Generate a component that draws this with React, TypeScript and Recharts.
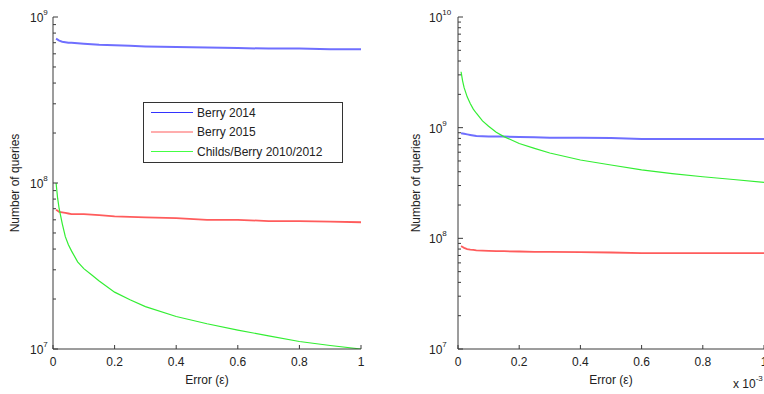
import React from 'react';
import { Line, LineChart, XAxis, YAxis } from 'recharts';

// error values (left panel in ε, right panel in units of 1e-3)
const EPS = [0.01, 0.015, 0.02, 0.03, 0.04, 0.05, 0.06, 0.08, 0.1, 0.125, 0.15, 0.2, 0.25, 0.3, 0.4, 0.5, 0.6, 0.7, 0.8, 0.9, 1.0];

const LEFT_BERRY_2014 = [7.4e8, 7.3e8, 7.2e8, 7.1e8, 7.05e8, 7.0e8, 7.0e8, 6.95e8, 6.9e8, 6.85e8, 6.8e8, 6.75e8, 6.7e8, 6.65e8, 6.6e8, 6.55e8, 6.5e8, 6.45e8, 6.45e8, 6.4e8, 6.4e8];
const LEFT_BERRY_2015 = [6.9e7, 6.8e7, 6.7e7, 6.65e7, 6.6e7, 6.55e7, 6.5e7, 6.5e7, 6.5e7, 6.45e7, 6.4e7, 6.3e7, 6.25e7, 6.2e7, 6.15e7, 6.0e7, 6.0e7, 5.9e7, 5.9e7, 5.85e7, 5.8e7];
const LEFT_CHILDS = [1.0e8, 8.1e7, 7.0e7, 5.7e7, 4.75e7, 4.25e7, 3.9e7, 3.35e7, 3.05e7, 2.8e7, 2.57e7, 2.2e7, 1.98e7, 1.8e7, 1.57e7, 1.42e7, 1.3e7, 1.2e7, 1.11e7, 1.05e7, 1.0e7];

const RIGHT_BERRY_2014 = [8.9e8, 8.85e8, 8.8e8, 8.7e8, 8.6e8, 8.5e8, 8.4e8, 8.35e8, 8.3e8, 8.3e8, 8.3e8, 8.25e8, 8.2e8, 8.1e8, 8.1e8, 8.05e8, 7.9e8, 7.9e8, 7.9e8, 7.9e8, 7.9e8];
const RIGHT_BERRY_2015 = [8.5e7, 8.35e7, 8.2e7, 8.0e7, 7.9e7, 7.85e7, 7.8e7, 7.75e7, 7.7e7, 7.65e7, 7.65e7, 7.6e7, 7.55e7, 7.55e7, 7.5e7, 7.45e7, 7.35e7, 7.35e7, 7.35e7, 7.35e7, 7.35e7];
const RIGHT_CHILDS = [3.2e9, 2.65e9, 2.3e9, 1.9e9, 1.65e9, 1.47e9, 1.35e9, 1.15e9, 1.03e9, 9.1e8, 8.3e8, 7.2e8, 6.5e8, 5.9e8, 5.1e8, 4.6e8, 4.15e8, 3.85e8, 3.6e8, 3.4e8, 3.2e8];

const X_TICKS = [0, 0.2, 0.4, 0.6, 0.8, 1];
const LEFT_Y_TICKS = [1e7, 2e7, 3e7, 4e7, 5e7, 6e7, 7e7, 8e7, 9e7, 1e8, 2e8, 3e8, 4e8, 5e8, 6e8, 7e8, 8e8, 9e8, 1e9];
const RIGHT_Y_TICKS = [1e7, 2e7, 3e7, 4e7, 5e7, 6e7, 7e7, 8e7, 9e7, 1e8, 2e8, 3e8, 4e8, 5e8, 6e8, 7e8, 8e8, 9e8, 1e9, 2e9, 3e9, 4e9, 5e9, 6e9, 7e9, 8e9, 9e9, 1e10];

const SERIES = [
  { key: 'b14', name: 'Berry 2014', color: '#6f6fff', legend: '#3333ff', width: 2 },
  { key: 'b15', name: 'Berry 2015', color: '#ff5c5c', legend: '#ff5c5c', width: 1.8 },
  { key: 'cb', name: 'Childs/Berry 2010/2012', color: '#33ee33', legend: '#44ff44', width: 1.2 }
];

const FONT = '"Liberation Sans", Arial, sans-serif';
const AXIS = '#3a3a3a';

const leftData = EPS.map((e, i) => ({ eps: e, b14: LEFT_BERRY_2014[i], b15: LEFT_BERRY_2015[i], cb: LEFT_CHILDS[i] }));
const rightData = EPS.map((e, i) => ({ eps: e, b14: RIGHT_BERRY_2014[i], b15: RIGHT_BERRY_2015[i], cb: RIGHT_CHILDS[i] }));

const isDecade = (v: number) => Math.abs(Math.log10(v) - Math.round(Math.log10(v))) < 1e-9;

const YTick = (props: any) => {
  const { x, y, payload, side, labelOffset } = props;
  const v = payload.value;
  const major = isDecade(v);
  const dir = side === 'left' ? 1 : -1;
  return (
    <g>
      <line x1={x} x2={x + dir * (major ? 5 : 3)} y1={y} y2={y} stroke={AXIS} />
      {side === 'left' && major && (
        <text x={x - labelOffset} y={y + 5} fontSize={12} fill="#222" fontFamily={FONT}>
          10
          <tspan dy={-7} fontSize={8}>
            {Math.round(Math.log10(v))}
          </tspan>
        </text>
      )}
    </g>
  );
};

const XTick = (props: any) => {
  const { x, y, payload, side } = props;
  const dir = side === 'bottom' ? -1 : 1;
  return (
    <g>
      <line x1={x} x2={x} y1={y} y2={y + dir * 4} stroke={AXIS} />
      {side === 'bottom' && (
        <text x={x} y={y + 17} textAnchor="middle" fontSize={12} fill="#222" fontFamily={FONT}>
          {String(payload.value)}
        </text>
      )}
    </g>
  );
};

const YLabel = (props: any) => {
  const { viewBox, cx } = props;
  const px = viewBox.x + cx;
  const py = viewBox.y + viewBox.height / 2;
  return (
    <text
      x={px}
      y={py}
      transform={`rotate(-90, ${px}, ${py})`}
      textAnchor="middle"
      dominantBaseline="central"
      fontSize={12}
      fill="#222"
      fontFamily={FONT}
    >
      Number of queries
    </text>
  );
};

const XLabel = (props: any) => {
  const { viewBox, scaleNote } = props;
  return (
    <g fontFamily={FONT} fill="#222">
      <text x={viewBox.x + viewBox.width / 2} y={viewBox.y + 35} textAnchor="middle" fontSize={12}>
        Error (ε)
      </text>
      {scaleNote && (
        <text x={viewBox.x + viewBox.width - 31} y={viewBox.y + 39} fontSize={12}>
          x 10
          <tspan dy={-7} fontSize={8}>
            -3
          </tspan>
        </text>
      )}
    </g>
  );
};

type PanelProps = {
  data: typeof leftData;
  yDomain: [number, number];
  yTicks: number[];
  yAxisWidth: number;
  labelOffset: number;
  labelX: number;
  marginRight: number;
  scaleNote?: boolean;
};

const Panel: React.FC<PanelProps> = ({ data, yDomain, yTicks, yAxisWidth, labelOffset, labelX, marginRight, scaleNote }) => (
  <LineChart width={380} height={394} data={data} margin={{ top: 17, right: marginRight, left: 0, bottom: 0 }}>
    <XAxis
      xAxisId="b"
      dataKey="eps"
      type="number"
      domain={[0, 1]}
      allowDataOverflow
      ticks={X_TICKS}
      interval={0}
      height={45}
      tickSize={0}
      tickMargin={0}
      tickLine={false}
      axisLine={{ stroke: AXIS }}
      tick={<XTick side="bottom" />}
      label={<XLabel scaleNote={scaleNote} />}
    />
    <XAxis
      xAxisId="t"
      orientation="top"
      type="number"
      domain={[0, 1]}
      allowDataOverflow
      ticks={X_TICKS}
      interval={0}
      height={0}
      tickSize={0}
      tickMargin={0}
      tickLine={false}
      axisLine={{ stroke: AXIS }}
      tick={<XTick side="top" />}
    />
    <YAxis
      yAxisId="l"
      scale="log"
      type="number"
      domain={yDomain}
      allowDataOverflow
      ticks={yTicks}
      interval={0}
      width={yAxisWidth}
      tickSize={0}
      tickMargin={0}
      tickLine={false}
      axisLine={{ stroke: AXIS }}
      tick={<YTick side="left" labelOffset={labelOffset} />}
      label={<YLabel cx={labelX} />}
    />
    <YAxis
      yAxisId="r"
      orientation="right"
      scale="log"
      type="number"
      domain={yDomain}
      allowDataOverflow
      ticks={yTicks}
      interval={0}
      width={0}
      tickSize={0}
      tickMargin={0}
      tickLine={false}
      axisLine={{ stroke: AXIS }}
      tick={<YTick side="right" />}
    />
    {SERIES.map((s) => (
      <Line
        key={s.key}
        xAxisId="b"
        yAxisId="l"
        type="linear"
        dataKey={s.key}
        name={s.name}
        stroke={s.color}
        strokeWidth={s.width}
        dot={false}
        activeDot={false}
        isAnimationActive={false}
      />
    ))}
  </LineChart>
);

const LegendBox = () => (
  <svg width={200} height={61} style={{ position: 'absolute', left: 143, top: 102 }}>
    <rect x={0.5} y={0.5} width={199} height={60} fill="#fff" stroke="#333" />
    {SERIES.map((s, i) => (
      <g key={s.key}>
        <line x1={8} x2={50} y1={10.5 + i * 19.5} y2={10.5 + i * 19.5} stroke={s.legend} strokeWidth={1.2} />
        <text x={54} y={10.5 + i * 19.5} dominantBaseline="central" fontSize={12} fill="#222" fontFamily={FONT}>
          {s.name}
        </text>
      </g>
    ))}
  </svg>
);

export default function App() {
  return (
    <div style={{ position: 'fixed', left: 0, top: 0, width: 764, height: 394, overflow: 'hidden', background: '#fff' }}>
      <div style={{ position: 'absolute', left: 0, top: 0 }}>
        <Panel
          data={leftData}
          yDomain={[1e7, 1e9]}
          yTicks={LEFT_Y_TICKS}
          yAxisWidth={53}
          labelOffset={23}
          labelX={15}
          marginRight={19}
        />
      </div>
      <div style={{ position: 'absolute', left: 390, top: 0 }}>
        <Panel
          data={rightData}
          yDomain={[1e7, 1e10]}
          yTicks={RIGHT_Y_TICKS}
          yAxisWidth={68}
          labelOffset={29}
          labelX={26}
          marginRight={6}
          scaleNote
        />
      </div>
      <LegendBox />
    </div>
  );
}
